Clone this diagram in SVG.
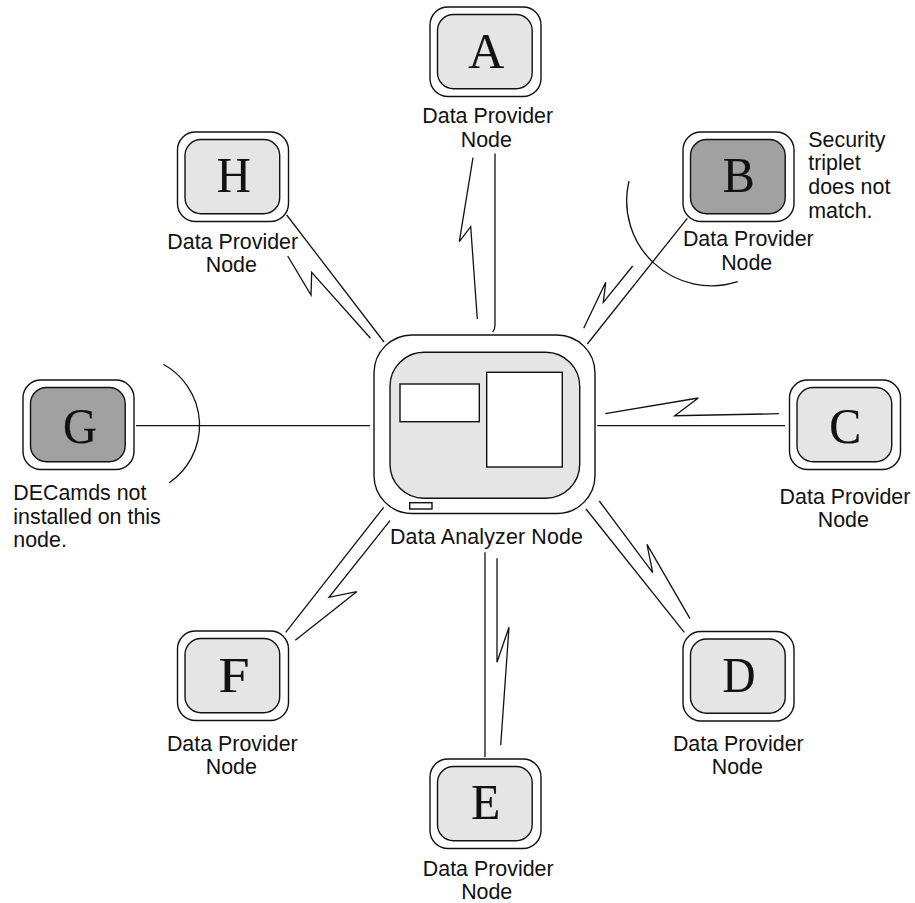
<svg xmlns="http://www.w3.org/2000/svg" width="915" height="903" viewBox="0 0 915 903">
<style>
.o{fill:#fff;stroke:#111;stroke-width:1.4}
.i{fill:#e5e5e5;stroke:#111;stroke-width:1.4}
.d{fill:#a1a1a1;stroke:#111;stroke-width:1.4}
.w{fill:#fff;stroke:#111;stroke-width:1.4}
.l{font-family:"Liberation Serif",serif;font-size:51px;fill:#111;stroke:#111;stroke-width:.2;text-anchor:middle}
.t{font-family:"Liberation Sans",Arial,sans-serif;font-size:21.4px;fill:#111}
.m{text-anchor:middle}
#c path{fill:none;stroke:#111;stroke-width:1.3}
</style>
<defs>
<g id="frame"><rect class="o" x="0.5" y="0.5" width="111" height="89.5" rx="18"/></g>
</defs>
<rect width="915" height="903" fill="#fff"/>
<g id="c">
<path d="M495 153.5V325Q495 329 492.7 332"/>
<path d="M473 157.7L459.3 241.7L470.7 226.7L477.3 319"/>
<path d="M687.3 218.3L587.3 344"/>
<path d="M632.7 266L603.3 302.3L605.7 282.3L583.7 328.3"/>
<path d="M629 181A85 85 0 0 0 737.7 281.7"/>
<path d="M597.3 425.7H785"/>
<path d="M605.3 413.7L698.3 398L674.7 415.7L779 413.7"/>
<path d="M586 509L684.3 632.3"/>
<path d="M599.3 501L652.7 572.7L647 544.3L690 618.7"/>
<path d="M485 552.3V757"/>
<path d="M497 558.3V662.3L509 627.3L500.7 745.3"/>
<path d="M383.7 507.3L285.7 632.3"/>
<path d="M390 520.7L329 597.3L356.7 591.7L295.3 640.3"/>
<path d="M136 425.7H370"/>
<path d="M163.3 364.3A69.5 69.5 0 0 1 169.3 482.7"/>
<path d="M286.7 215L384 342"/>
<path d="M287.7 256L311 295L311.7 272.3L370.5 338.3"/>
</g>
<g id="center">
<rect class="o" x="374" y="335" width="221" height="178.5" rx="38"/>
<rect class="i" x="390" y="352.3" width="189.7" height="146" rx="34"/>
<rect class="w" x="400" y="384" width="79.3" height="37.7"/>
<rect class="w" x="486.7" y="372.3" width="75.6" height="94.7"/>
<rect class="w" x="409.7" y="502.7" width="22.3" height="6.3"/>
<text class="t m" x="486.5" y="544" textLength="193">Data Analyzer Node</text>
</g>
<g id="A" transform="translate(429.5 6.5)"><use href="#frame"/><rect class="i" x="8" y="8" width="94.7" height="74.3" rx="16"/><text class="l" x="56.8" y="61" textLength="36" lengthAdjust="spacingAndGlyphs">A</text></g>
<text class="t m" x="487.7" y="123">Data Provider</text><text class="t m" x="486.3" y="146.5">Node</text>
<g id="B" transform="translate(682.5 131.5)"><use href="#frame"/><rect class="d" x="8" y="8" width="94.7" height="74.3" rx="16"/><text class="l" x="56.2" y="60.5" textLength="32" lengthAdjust="spacingAndGlyphs">B</text></g>
<text class="t m" x="748.3" y="246">Data Provider</text><text class="t m" x="746.7" y="270">Node</text>
<g id="note-b"><text class="t" x="808.3" y="146.7">Security</text><text class="t" x="808.3" y="170">triplet</text><text class="t" x="808.3" y="194">does not</text><text class="t" x="808.3" y="217.7">match.</text></g>
<g id="C" transform="translate(789 379.5)"><use href="#frame"/><rect class="i" x="8" y="8" width="94.7" height="74.3" rx="16"/><text class="l" x="56.3" y="63" textLength="32" lengthAdjust="spacingAndGlyphs">C</text></g>
<text class="t m" x="845" y="504">Data Provider</text><text class="t m" x="843.3" y="527.3">Node</text>
<g id="D" transform="translate(682.5 631)"><use href="#frame"/><rect class="i" x="8" y="8" width="94.7" height="74.3" rx="16"/><text class="l" x="56.5" y="60.7" textLength="33" lengthAdjust="spacingAndGlyphs">D</text></g>
<text class="t m" x="738.3" y="750.7">Data Provider</text><text class="t m" x="737.3" y="774">Node</text>
<g id="E" transform="translate(429.5 758.5)"><use href="#frame"/><rect class="i" x="8" y="8" width="94.7" height="74.3" rx="16"/><text class="l" x="56.2" y="60.8" textLength="29" lengthAdjust="spacingAndGlyphs">E</text></g>
<text class="t m" x="488.2" y="875.5">Data Provider</text><text class="t m" x="486.7" y="898.8">Node</text>
<g id="F" transform="translate(177 630.5)"><use href="#frame"/><rect class="i" x="8" y="8" width="94.7" height="74.3" rx="16"/><text class="l" x="57" y="61" textLength="31" lengthAdjust="spacingAndGlyphs">F</text></g>
<text class="t m" x="232.3" y="750.7">Data Provider</text><text class="t m" x="231.3" y="774">Node</text>
<g id="G" transform="translate(22.5 379.5)"><use href="#frame"/><rect class="d" x="8" y="8" width="94.7" height="74.3" rx="16"/><text class="l" x="57.5" y="63" textLength="34" lengthAdjust="spacingAndGlyphs">G</text></g>
<g id="note-g"><text class="t" x="13.3" y="500">DECamds not</text><text class="t" x="13.3" y="524">installed on this</text><text class="t" x="13.3" y="547.3">node.</text></g>
<g id="H" transform="translate(177 131.5)"><use href="#frame"/><rect class="i" x="8" y="8" width="94.7" height="74.3" rx="16"/><text class="l" x="56.7" y="60.5" textLength="34" lengthAdjust="spacingAndGlyphs">H</text></g>
<text class="t m" x="232.7" y="249">Data Provider</text><text class="t m" x="231.3" y="272.3">Node</text>
</svg>
